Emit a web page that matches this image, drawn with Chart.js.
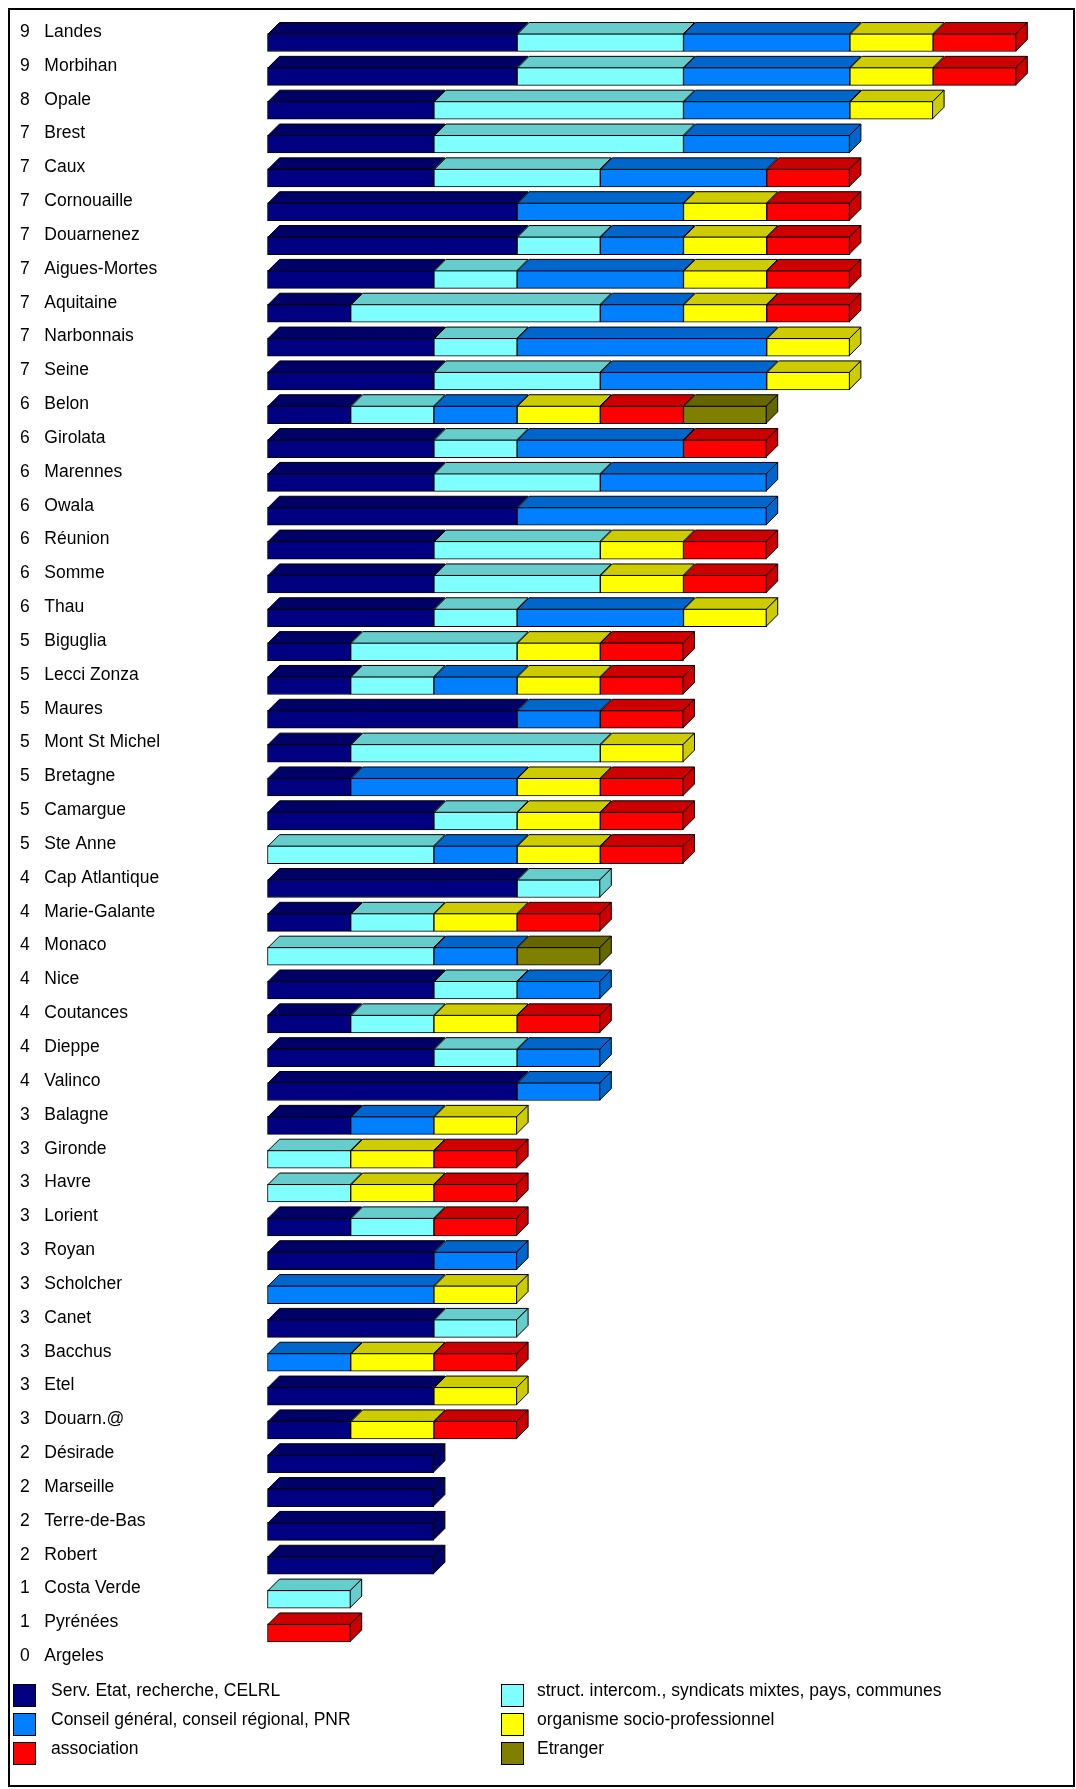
<!DOCTYPE html>
<html>
<head>
<meta charset="utf-8">
<script src="https://cdn.jsdelivr.net/npm/chart.js@4.4.0/dist/chart.umd.min.js"></script>
<style>
body { margin: 0; overflow: hidden; background: #fff; font-family: "Liberation Sans", Arial, sans-serif; }
#wrap { position: relative; width: 1076px; height: 1789px; overflow: hidden; }
#frame { position: absolute; left: 8px; top: 8px; width: 1067px; height: 1779px; box-sizing: border-box; border: 2px solid #000; }
#c { position: absolute; left: 0; top: 0; }
#legend .box { position: absolute; width: 21px; height: 21px; border: 1px solid #000; }
#legend .txt { position: absolute; font-size: 17.5px; line-height: 17.5px; white-space: nowrap; color: #000; }
</style>
</head>
<body>
<div id="wrap">
  <div id="frame"></div>
  <canvas id="c" width="1076" height="1789"></canvas>
  <div id="legend"></div>
</div>
<script>
// sites
const sites = ['Landes', 'Morbihan', 'Opale', 'Brest', 'Caux', 'Cornouaille', 'Douarnenez',
  'Aigues-Mortes', 'Aquitaine', 'Narbonnais', 'Seine', 'Belon', 'Girolata', 'Marennes', 'Owala',
  'Réunion', 'Somme', 'Thau', 'Biguglia', 'Lecci Zonza', 'Maures', 'Mont St Michel', 'Bretagne',
  'Camargue', 'Ste Anne', 'Cap Atlantique', 'Marie-Galante', 'Monaco', 'Nice', 'Coutances',
  'Dieppe', 'Valinco', 'Balagne', 'Gironde', 'Havre', 'Lorient', 'Royan', 'Scholcher', 'Canet',
  'Bacchus', 'Etel', 'Douarn.@', 'Désirade', 'Marseille', 'Terre-de-Bas', 'Robert',
  'Costa Verde', 'Pyrénées', 'Argeles'];

// nombre de partenaires par type
const servEtat  = [3,3,2,2,2,3,3,2,1,2,2,1,2,2,3,2,2,2,1,1,3,1,1,2,0,3,1,0,2,1,2,3,1,0,0,1,2,0,2,0,2,1,2,2,2,2,0,0,0];
const intercom  = [2,2,3,3,2,0,1,1,3,1,2,1,1,2,0,2,2,1,2,1,0,3,0,1,2,1,1,2,1,1,1,0,0,1,1,1,0,0,1,0,0,0,0,0,0,0,1,0,0];
const conseil   = [2,2,2,2,2,2,1,2,1,3,2,1,2,2,3,0,0,2,0,1,1,0,2,0,1,0,0,1,1,0,1,1,1,0,0,0,1,2,0,1,0,0,0,0,0,0,0,0,0];
const socioPro  = [1,1,1,0,0,1,1,1,1,1,1,1,0,0,0,1,1,1,1,1,0,1,1,1,1,0,1,0,0,1,0,0,1,1,1,0,0,1,0,1,1,1,0,0,0,0,0,0,0];
const assoc     = [1,1,0,0,1,1,1,1,1,0,0,1,1,0,0,1,1,0,1,1,1,0,1,1,1,0,1,0,0,1,0,0,0,1,1,1,0,0,0,1,0,1,0,0,0,0,0,1,0];
const etranger  = [0,0,0,0,0,0,0,0,0,0,0,1,0,0,0,0,0,0,0,0,0,0,0,0,0,0,0,1,0,0,0,0,0,0,0,0,0,0,0,0,0,0,0,0,0,0,0,0,0];

const seriesNames = ['Serv. Etat, recherche, CELRL', 'struct. intercom., syndicats mixtes, pays, communes',
  'Conseil général, conseil régional, PNR', 'organisme socio-professionnel', 'association', 'Etranger'];

const colors = ['#000080', '#80FFFF', '#0080FF', '#FFFF00', '#FF0000', '#808000'];
const shades = ['#000066', '#66CCCC', '#0066CC', '#CCCC00', '#CC0000', '#666600'];

const series = [servEtat, intercom, conseil, socioPro, assoc, etranger];
const totals = sites.map((s, i) => series.reduce((sum, arr) => sum + arr[i], 0));

const FONT = '"Liberation Sans", Arial, sans-serif';
const DEPTH = 11.5;

// faces du dessus et de côté (effet 3D)
const depth3d = {
  id: 'depth3d',
  afterDatasetsDraw(chart) {
    const ctx = chart.ctx;
    const last = new Array(chart.data.labels.length).fill(null);
    ctx.save();
    ctx.lineWidth = 1;
    ctx.strokeStyle = '#000';
    chart.data.datasets.forEach((ds, di) => {
      const meta = chart.getDatasetMeta(di);
      meta.data.forEach((bar, i) => {
        if (!ds.data[i]) return;
        const p = bar.getProps(['x', 'y', 'base', 'height'], true);
        const top = p.y - p.height / 2 + 0.5;
        ctx.beginPath();
        ctx.moveTo(p.base + 0.5, top);
        ctx.lineTo(p.base + 0.5 + DEPTH, top - DEPTH);
        ctx.lineTo(p.x - 0.5 + DEPTH, top - DEPTH);
        ctx.lineTo(p.x - 0.5, top);
        ctx.closePath();
        ctx.fillStyle = shades[di];
        ctx.fill();
        ctx.stroke();
        last[i] = { x: p.x - 0.5, top: top, bottom: p.y + p.height / 2 - 0.5, di: di };
      });
    });
    last.forEach(e => {
      if (!e) return;
      ctx.beginPath();
      ctx.moveTo(e.x, e.top);
      ctx.lineTo(e.x + DEPTH, e.top - DEPTH);
      ctx.lineTo(e.x + DEPTH, e.bottom - DEPTH);
      ctx.lineTo(e.x, e.bottom);
      ctx.closePath();
      ctx.fillStyle = shades[e.di];
      ctx.fill();
      ctx.stroke();
    });
    ctx.restore();
  }
};

const chart = new Chart(document.getElementById('c').getContext('2d'), {
  type: 'bar',
  data: {
    labels: sites,
    datasets: series.map((arr, k) => ({
      label: seriesNames[k],
      data: arr.map(v => v || null),
      backgroundColor: colors[k],
      borderColor: '#000',
      borderWidth: 1,
      borderSkipped: false,
      barThickness: 18,
      clip: false
    }))
  },
  options: {
    responsive: false,
    animation: false,
    indexAxis: 'y',
    layout: { padding: { left: 20, right: 9.8, top: 25.6, bottom: 105.3 } },
    plugins: {
      legend: { display: false },
      tooltip: { enabled: false }
    },
    scales: {
      x: { stacked: true, display: false, min: 0, max: 9.6 },
      y: {
        stacked: true,
        offset: true,
        grid: { display: false },
        border: { display: false },
        afterFit: scale => { scale.width = 247.5; },
        ticks: {
          autoSkip: false,
          crossAlign: 'far',
          labelOffset: -10.5,
          padding: 0,
          color: '#000',
          font: { size: 17.5, family: FONT },
          callback: (v, i) => totals[i] + '   ' + sites[i]
        }
      }
    }
  },
  plugins: [depth3d]
});

// légende en deux colonnes
const legend = document.getElementById('legend');
chart.data.datasets.forEach((ds, i) => {
  const col = i % 2, row = Math.floor(i / 2);
  const box = document.createElement('div');
  box.className = 'box';
  box.style.left = (col ? 501 : 13) + 'px';
  box.style.top = (1684 + row * 29) + 'px';
  box.style.background = ds.backgroundColor;
  legend.appendChild(box);
  const txt = document.createElement('div');
  txt.className = 'txt';
  txt.style.left = (col ? 537 : 51) + 'px';
  txt.style.top = (1681.9 + row * 29) + 'px';
  txt.textContent = ds.label;
  legend.appendChild(txt);
});
</script>
</body>
</html>
